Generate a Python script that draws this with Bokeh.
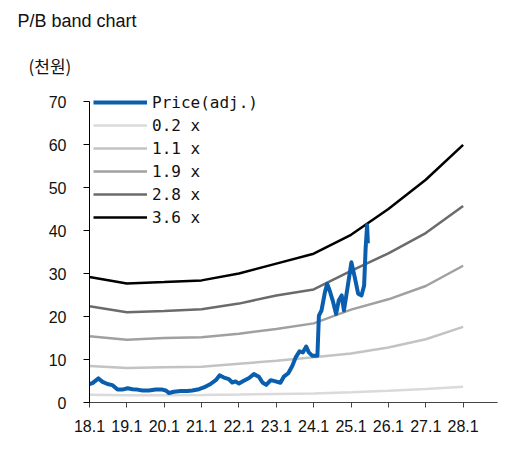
from bokeh.plotting import figure
from bokeh.models import Legend, LegendItem, Title, FixedTicker, Range1d
from bokeh.embed import file_html
from bokeh.resources import INLINE

# ---- data ----
band_years = [18, 19, 20, 21, 22, 23, 24, 25, 26, 27, 28]
band_02 = [1.8, 1.7, 1.7, 1.75, 1.85, 2.0, 2.1, 2.4, 2.75, 3.15, 3.65]
band_11 = [8.5, 8.0, 8.2, 8.3, 9.0, 9.7, 10.5, 11.4, 12.8, 14.7, 17.6]
band_19 = [15.4, 14.6, 15.0, 15.2, 16.0, 17.1, 18.4, 21.6, 24.0, 27.1, 31.8]
band_28 = [22.4, 21.0, 21.3, 21.7, 23.0, 24.9, 26.3, 30.6, 34.7, 39.4, 45.7]
band_36 = [29.2, 27.7, 28.0, 28.4, 30.0, 32.3, 34.6, 39.0, 45.0, 51.8, 59.9]

price_t = [18.0, 18.08, 18.24, 18.35, 18.48, 18.61, 18.75, 18.88, 19.02, 19.15,
           19.28, 19.42, 19.59, 19.77, 19.95, 20.04, 20.13, 20.26, 20.44, 20.62,
           20.75, 20.93, 21.06, 21.24, 21.38, 21.48, 21.6, 21.73, 21.82, 21.91,
           22.0, 22.13, 22.27, 22.4, 22.53, 22.63, 22.73, 22.85, 22.98, 23.11,
           23.2, 23.32, 23.43, 23.52, 23.62, 23.71, 23.8, 23.87, 23.96, 24.1,
           24.14, 24.21, 24.3, 24.36, 24.43, 24.51, 24.6, 24.67, 24.75, 24.81,
           24.9, 25.01, 25.1, 25.19, 25.28, 25.35, 25.39, 25.43, 25.45]
price_v = [4.3, 4.5, 5.6, 4.8, 4.3, 4.05, 3.0, 3.0, 3.3, 3.1,
           3.0, 2.8, 2.8, 3.0, 3.0, 2.8, 2.2, 2.5, 2.65, 2.65,
           2.8, 3.1, 3.5, 4.3, 5.2, 6.3, 5.8, 5.45, 4.65, 4.9,
           4.4, 5.05, 5.7, 6.6, 6.0, 4.65, 4.1, 5.2, 4.9, 4.6,
           6.0, 6.8, 8.55, 10.5, 11.9, 11.65, 13.0, 11.65, 10.9, 10.9,
           20.2, 21.4, 25.6, 27.6, 26.0, 23.7, 20.6, 23.7, 24.9, 21.4,
           26.4, 32.6, 29.1, 25.3, 24.9, 27.2, 35.8, 41.2, 37.0]

x_ticks = [18, 19, 20, 21, 22, 23, 24, 25, 26, 27, 28]
x_tick_labels = ["18.1", "19.1", "20.1", "21.1", "22.1", "23.1", "24.1", "25.1", "26.1", "27.1", "28.1"]
y_ticks = [0, 10, 20, 30, 40, 50, 60, 70]

series_names = ["Price(adj.)", "0.2 x", "1.1 x", "1.9 x", "2.8 x", "3.6 x"]
band_colors = ["#dadada", "#c3c3c3", "#a0a0a0", "#6b6b6b", "#000000"]
price_color = "#0a5eae"

title_text = "P/B band chart"
unit_text = "(천원)"

# ---- figure ----
p = figure(width=498, height=436, output_backend="svg", toolbar_location=None,
           x_range=Range1d(18, 28.92), y_range=Range1d(0, 72.33),
           min_border_left=89, min_border_right=1, min_border_top=91, min_border_bottom=34)
p.outline_line_color = None
p.xgrid.visible = False
p.ygrid.visible = False
p.background_fill_color = "white"

# titles (outer: chart title, inner: unit)
p.title.text = title_text
p.title.text_font = "Liberation Sans"
p.title.text_font_size = "18px"
p.title.text_font_style = "normal"
p.title.text_color = "#111111"
p.title.align = "left"
p.title.offset = -72
p.title.standoff = 14
p.add_layout(Title(text=unit_text, text_font="Noto Sans CJK KR", text_font_size="17px",
                   text_font_style="normal", text_color="#111111", align="left",
                   offset=-61, standoff=27), "above")

band_renderers = []
for vals, col in zip([band_02, band_11, band_19, band_28, band_36], band_colors):
    r = p.line(band_years, vals, line_color=col, line_width=2.5)
    band_renderers.append(r)

pr = p.line(price_t, price_v, line_color=price_color, line_width=4, line_join="round")

legend = Legend(items=[LegendItem(label=series_names[0], renderers=[pr])] +
                [LegendItem(label=n, renderers=[r]) for n, r in zip(series_names[1:], band_renderers)],
                location=(4, 174), padding=0, margin=0, spacing=1,
                label_height=22, glyph_height=22, glyph_width=54, label_standoff=5,
                label_text_font="DejaVu Sans Mono", label_text_font_size="16px",
                label_text_color="#111111", background_fill_alpha=0, border_line_color=None)
p.add_layout(legend, "center")

# axes
xa = p.xaxis[0]
xa.ticker = FixedTicker(ticks=x_ticks)
xa.major_label_overrides = {t: l for t, l in zip(x_ticks, x_tick_labels)}
xa.minor_tick_line_color = None
xa.major_tick_out = 5
xa.major_tick_in = 0
xa.axis_line_color = "#444444"
xa.major_tick_line_color = "#444444"
xa.major_label_standoff = 12
xa.major_label_text_font = "Liberation Sans"
xa.major_label_text_font_size = "16px"
xa.major_label_text_color = "#111111"

ya = p.yaxis[0]
ya.ticker = FixedTicker(ticks=y_ticks)
ya.bounds = (0, 70)
ya.minor_tick_line_color = None
ya.major_tick_out = 6
ya.major_tick_in = 0
ya.axis_line_color = "#000000"
ya.major_tick_line_color = "#000000"
ya.major_label_standoff = 17
ya.major_label_text_font = "Liberation Sans"
ya.major_label_text_font_size = "16px"
ya.major_label_text_color = "#111111"

open("out.html", "w").write(file_html(p, INLINE))
